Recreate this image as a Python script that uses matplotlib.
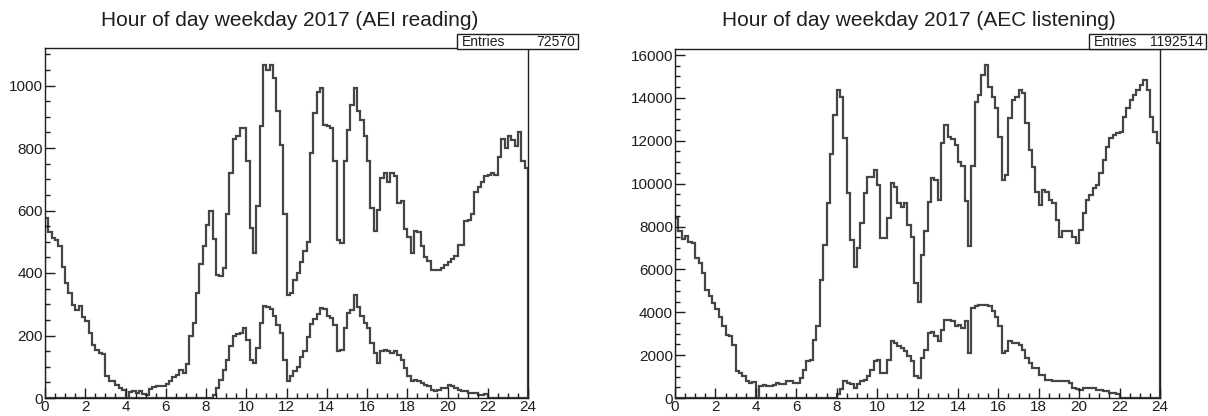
import numpy as np
import matplotlib
matplotlib.use("Agg")
import matplotlib.pyplot as plt
from matplotlib.ticker import MultipleLocator
from matplotlib.patches import Rectangle

plt.rcParams['font.family'] = ['Liberation Sans', 'DejaVu Sans']

# 10-minute bins over the hour of day (0..24)
bin_edges_hours = np.linspace(0, 24, 145)

# ---- AEI reading: all entries (upper curve) ----
aei_all = [
    575, 530, 512, 505, 488, 420,
    368, 336, 298, 283, 293, 260,
    245, 208, 171, 155, 145, 140,
    70, 53, 53, 43, 32, 25,
    0, 18, 22, 16, 22, 12,
    10, 30, 35, 38, 40, 38,
    45, 55, 68, 75, 90, 80,
    110, 200, 240, 335, 430, 485,
    555, 597, 510, 395, 390, 415,
    590, 720, 830, 840, 865, 865,
    760, 545, 465, 615, 870, 1065,
    1050, 1065, 1025, 920, 810, 590,
    330, 336, 378, 400, 435, 470,
    500, 783, 911, 980, 991, 875,
    869, 865, 757, 506, 496, 757,
    858, 938, 991, 917, 890, 837,
    757, 607, 533, 602, 704, 720,
    690, 720, 710, 625, 630, 540,
    515, 465, 535, 530, 485, 450,
    437, 410, 410, 410, 415, 425,
    435, 445, 455, 490, 490, 565,
    570, 590, 660, 675, 690, 710,
    715, 720, 715, 770, 830, 800,
    840, 825, 805, 850, 760, 735,
]

# ---- AEI reading: subset (lower curve) ----
aei_sub = [0] * 48 + [
    0, 0, 11, 32, 59, 91,
    123, 165, 200, 205, 208, 224,
    187, 123, 112, 160, 240, 295,
    290, 285, 262, 235, 208, 123,
    55, 70, 85, 100, 130, 150,
    195, 238, 252, 270, 288, 285,
    262, 255, 235, 149, 155, 224,
    272, 283, 330, 290, 261, 240,
    224, 176, 144, 112, 149, 155,
    149, 144, 149, 139, 123, 96,
    69, 53, 59, 55, 48, 42,
    37, 27, 21, 27, 32, 32,
    43, 37, 32, 27, 21, 21,
    16, 16, 16, 11, 11, 14,
] + [0] * 12

# ---- AEC listening: all entries (upper curve) ----
aec_all = [
    8400, 7800, 7400, 7550, 7300, 7250,
    6550, 6300, 5850, 5050, 4750, 4450,
    4150, 3800, 3350, 2950, 2870, 2480,
    1250, 1170, 1010, 780, 700, 750,
    0, 540, 620, 540, 540, 620,
    700, 670, 670, 780, 780, 700,
    700, 930, 1320, 1710, 1790, 2720,
    3340, 5510, 7140, 9080, 11400, 13200,
    14360, 14050, 12110, 9550, 7380, 6130,
    6990, 8150, 9550, 10330, 10330, 10640,
    9940, 7450, 7450, 8390, 10020, 9860,
    9085, 8930, 9085, 8080, 7530, 5360,
    4500, 6680, 7770, 9160, 10250, 10170,
    9240, 11880, 12730, 12190, 12100, 11800,
    11030, 10800, 9200, 7100, 10800, 13800,
    14130, 15060, 15530, 14520, 14050, 13510,
    12190, 10170, 10400, 13040, 13900, 14050,
    14360, 14210, 12810, 11570, 10790, 9630,
    9010, 9700, 9630, 9240, 9080, 8310,
    7530, 7770, 7770, 7770, 7530, 7220,
    7840, 8620, 9240, 9470, 9780, 9940,
    10480, 11100, 11720, 12110, 12270, 12350,
    12420, 13120, 13510, 13900, 14130, 14360,
    14600, 14830, 14360, 13120, 12420, 11880,
]

# ---- AEC listening: subset (lower curve) ----
aec_sub = [0] * 48 + [
    200, 420, 800, 700, 650, 450,
    650, 780, 850, 1010, 1320, 1710,
    1790, 1165, 1165, 1790, 2640, 2560,
    2410, 2330, 2170, 1940, 1710, 1010,
    930, 1860, 2250, 3030, 3100, 2870,
    2640, 3180, 3650, 3650, 3570, 3340,
    3420, 3260, 3570, 2100, 4200, 4270,
    4350, 4350, 4350, 4270, 4040, 3800,
    3340, 2100, 2170, 2640, 2560, 2560,
    2480, 2250, 1860, 1630, 1400, 1400,
    1090, 1090, 850, 850, 780, 780,
    780, 780, 780, 700, 470, 420,
    390, 470, 470, 470, 450, 390,
    390, 310, 310, 230, 230, 200,
] + [0] * 12

titles = ["Hour of day weekday 2017 (AEI reading)",
          "Hour of day weekday 2017 (AEC listening)"]
entries = ["72570", "1192514"]

W, H = 1208, 416
fig = plt.figure(figsize=(W / 100, H / 100), dpi=100)
fig.patch.set_facecolor('white')

line_col = '#454545'
text_col = '#1e1e1e'


def px_axes(x0, y0, x1, y1):
    return fig.add_axes([x0 / W, 1 - y1 / H, (x1 - x0) / W, (y1 - y0) / H])


def style(ax, ymax, ymaj, ymin):
    ax.set_xlim(0, 24)
    ax.set_ylim(0, ymax)
    ax.xaxis.set_major_locator(MultipleLocator(2))
    ax.xaxis.set_minor_locator(MultipleLocator(0.5))
    ax.yaxis.set_major_locator(MultipleLocator(ymaj))
    ax.yaxis.set_minor_locator(MultipleLocator(ymin))
    ax.tick_params(which='both', direction='in', top=False, right=False,
                   colors=text_col, labelsize=11, width=1.0)
    ax.tick_params(which='major', length=7)
    ax.tick_params(which='minor', length=3.5)
    ax.tick_params(axis='x', pad=1.5)
    ax.tick_params(axis='y', pad=1.5)
    for s in ax.spines.values():
        s.set_color(text_col)
        s.set_linewidth(1.0)


ax1 = px_axes(45, 48, 528, 398)
ax1.stairs(aei_all, bin_edges_hours, color=line_col, lw=1.6)
ax1.stairs(aei_sub, bin_edges_hours, color=line_col, lw=1.6)
style(ax1, 1120, 200, 50)

ax2 = px_axes(675, 49, 1160, 398)
ax2.stairs(aec_all, bin_edges_hours, color=line_col, lw=1.6)
ax2.stairs(aec_sub, bin_edges_hours, color=line_col, lw=1.6)
style(ax2, 16280, 2000, 500)

# titles
fig.text(290 / W, 1 - 20 / H, titles[0], ha='center', va='center',
         fontsize=15, color=text_col)
fig.text(919 / W, 1 - 20 / H, titles[1], ha='center', va='center',
         fontsize=15, color=text_col)


def stats_box(x0, x1, y0, y1, val):
    fig.patches.append(Rectangle((x0 / W, 1 - y1 / H), (x1 - x0) / W, (y1 - y0) / H,
                                 transform=fig.transFigure, facecolor='white',
                                 edgecolor=text_col, lw=1.0, zorder=5))
    yc = 1 - (y0 + y1) / 2 / H
    fig.text((x0 + 5) / W, yc, "Entries", ha='left', va='center',
             fontsize=10, color=text_col, zorder=6)
    fig.text((x1 - 3) / W, yc, val, ha='right', va='center',
             fontsize=10, color=text_col, zorder=6)


stats_box(457, 578, 34, 49, entries[0])
stats_box(1089, 1206, 34, 49, entries[1])

fig.savefig("out.png", dpi=100, facecolor='white')
